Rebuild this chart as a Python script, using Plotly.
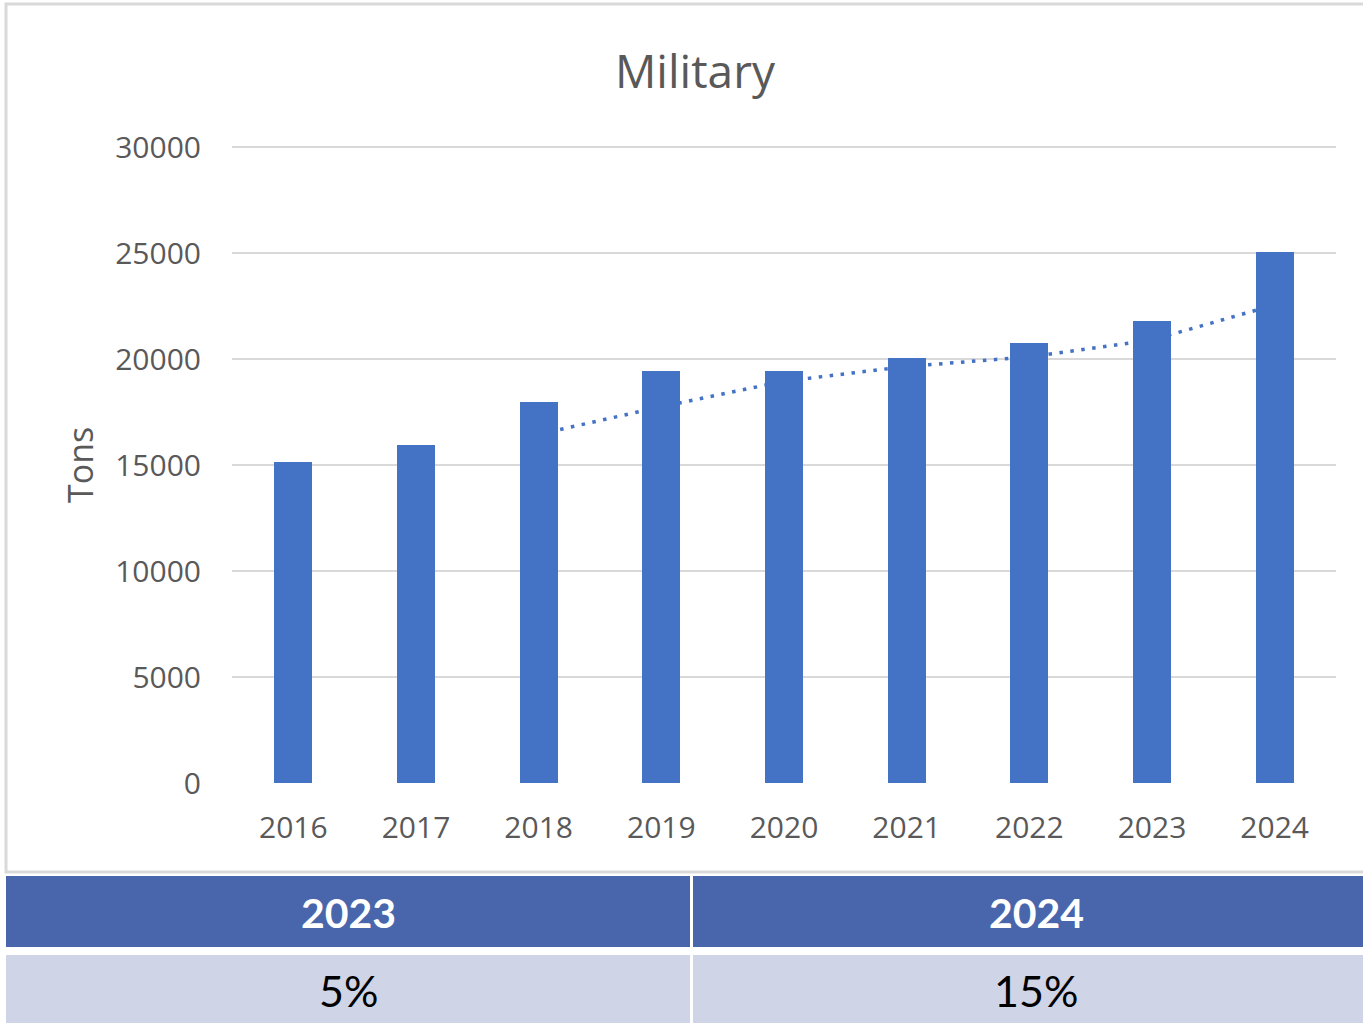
import plotly.graph_objects as go

# ---- data ----
years = ["2016", "2017", "2018", "2019", "2020", "2021", "2022", "2023", "2024"]
tons = [15150, 15950, 18000, 19450, 19450, 20050, 20750, 21800, 25050]
trend_years = ["2018", "2019", "2020", "2021", "2022", "2023", "2024"]
trend_values = [16450, 17750, 18950, 19650, 20100, 20900, 22550]
y_ticks = [0, 5000, 10000, 15000, 20000, 25000, 30000]
table_years = ["2023", "2024"]
table_changes = ["5%", "15%"]

W, H = 1363, 1023
BLUE = "#4472C4"
GRID = "#D9D9D9"
TXT = "#595959"


def px(x):
    return x / W


def py(y):
    return 1 - y / H


fig = go.Figure()

# trend line on main axes (drawn beneath bars)
fig.add_trace(go.Scatter(
    x=trend_years, y=trend_values, mode="lines",
    line=dict(color=BLUE, width=3.5, dash="3.5px,7.5px"),
    hoverinfo="skip", showlegend=False, xaxis="x", yaxis="y",
))

# bars on overlay axes so they sit above the trend line
fig.add_trace(go.Bar(
    x=years, y=tons, marker=dict(color=BLUE, line=dict(width=0)),
    width=0.31, showlegend=False, xaxis="x2", yaxis="y2",
))

Y_MAX = 30100  # a little headroom so the 30000 gridline is drawn
x_dom = [px(232), px(1336)]
y_dom = [py(783), py(783 - 636 * Y_MAX / 30000)]

fig.update_layout(
    width=W, height=H, autosize=False,
    margin=dict(l=0, r=0, t=0, b=0, pad=0, autoexpand=False),
    paper_bgcolor="white", plot_bgcolor="rgba(0,0,0,0)",
    font=dict(family="Open Sans", color=TXT),
    xaxis=dict(domain=x_dom, type="category", categoryorder="array",
               categoryarray=years, range=[-0.5, 8.5], automargin=False,
               showgrid=False, zeroline=False, showline=False,
               ticks="", tickfont=dict(size=30, color=TXT),
               ticklabelstandoff=24),
    yaxis=dict(domain=y_dom, range=[0, Y_MAX], tickvals=y_ticks,
               tickformat="d", automargin=False,
               showgrid=True, gridcolor=GRID, gridwidth=2,
               zeroline=False, showline=False, ticks="",
               tickfont=dict(size=30, color=TXT), ticklabelstandoff=30),
    xaxis2=dict(overlaying="x", type="category", categoryorder="array",
                categoryarray=years, range=[-0.5, 8.5], automargin=False,
                showgrid=False, zeroline=False, showticklabels=False),
    yaxis2=dict(overlaying="y", range=[0, Y_MAX], showgrid=False, automargin=False,
                zeroline=False, showticklabels=False),
    bargap=0,
)

shapes = []
# chart frame
shapes.append(dict(type="rect", xref="paper", yref="paper",
                   x0=px(6), x1=px(1366), y0=py(872), y1=py(4),
                   line=dict(color=GRID, width=3), fillcolor="rgba(0,0,0,0)",
                   layer="below"))
# table cells
HEAD = "#4966AC"
BODY = "#CFD4E6"
cols = [(6, 690), (693, 1379)]
for (x0, x1) in cols:
    shapes.append(dict(type="rect", xref="paper", yref="paper",
                       x0=px(x0), x1=px(x1), y0=py(947), y1=py(876),
                       line=dict(width=0), fillcolor=HEAD, layer="below"))
    shapes.append(dict(type="rect", xref="paper", yref="paper",
                       x0=px(x0), x1=px(x1), y0=py(1023), y1=py(955),
                       line=dict(width=0), fillcolor=BODY, layer="below"))
fig.update_layout(shapes=shapes)

annotations = [
    dict(text="Military", x=px(695), y=py(70), xref="paper", yref="paper",
         showarrow=False, xanchor="center", yanchor="middle",
         font=dict(size=46, color=TXT, family="Open Sans")),
    dict(text="Tons", x=px(80), y=py(465), xref="paper", yref="paper",
         showarrow=False, textangle=-90, xanchor="center", yanchor="middle",
         font=dict(size=34, color=TXT, family="Open Sans")),
]
for i, (x0, x1) in enumerate(cols):
    cx = (x0 + x1) / 2
    annotations.append(dict(text="<b>%s</b>" % table_years[i],
                            x=px(cx), y=py(912), xref="paper", yref="paper",
                            showarrow=False, xanchor="center", yanchor="middle",
                            font=dict(size=41, color="white", family="Lato")))
    annotations.append(dict(text=table_changes[i],
                            x=px(cx), y=py(990), xref="paper", yref="paper",
                            showarrow=False, xanchor="center", yanchor="middle",
                            font=dict(size=43, color="black", family="Lato")))
fig.update_layout(annotations=annotations)

fig.write_html("out.html", config={"displayModeBar": False},
               post_script="document.body.style.margin='0';document.body.style.overflow='hidden';")
